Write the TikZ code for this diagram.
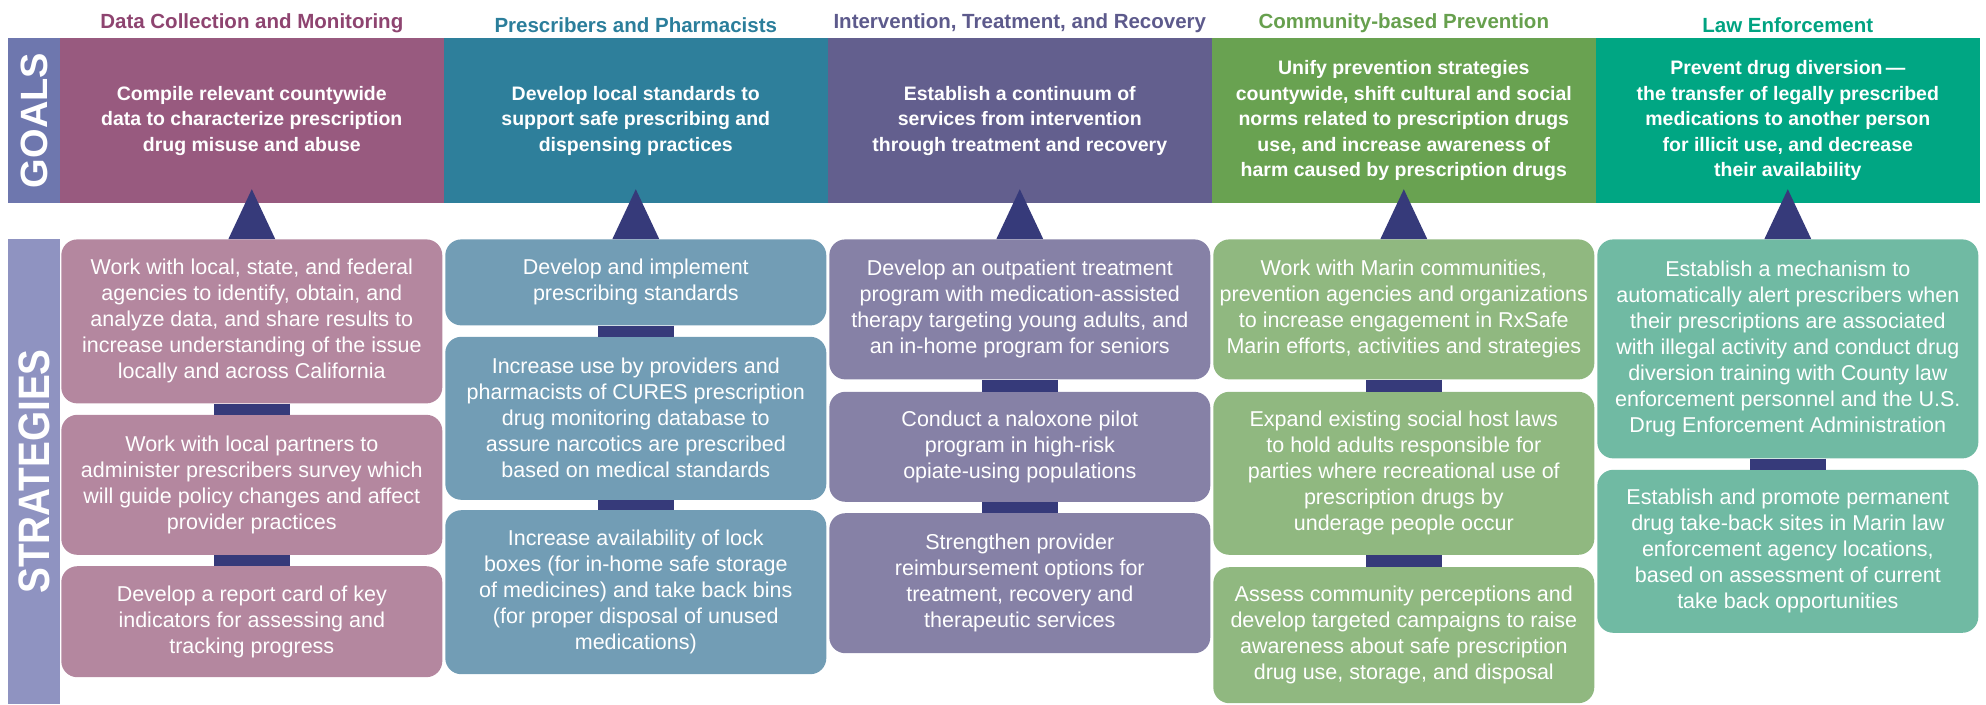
\documentclass[tikz,border=0pt]{standalone}
\usepackage{fontspec}
\setmainfont{Liberation Sans}
\usepackage{xcolor}
\usepackage{tikz}
\usetikzlibrary{positioning, calc}

\definecolor{navybar}{HTML}{363A7A}
\definecolor{goalsband}{HTML}{6E77AE}
\definecolor{stratband}{HTML}{8F93C1}
\definecolor{datahead}{HTML}{8E4470}
\definecolor{datagoal}{HTML}{985A7F}
\definecolor{datastrat}{HTML}{B4879F}
\definecolor{rxhead}{HTML}{2B7E9B}
\definecolor{rxgoal}{HTML}{2E7F9B}
\definecolor{rxstrat}{HTML}{729DB5}
\definecolor{treathead}{HTML}{5D5A8C}
\definecolor{treatgoal}{HTML}{635F8E}
\definecolor{treatstrat}{HTML}{8681A6}
\definecolor{commhead}{HTML}{67A04E}
\definecolor{commgoal}{HTML}{69A251}
\definecolor{commstrat}{HTML}{90B880}
\definecolor{lawhead}{HTML}{00A381}
\definecolor{lawgoal}{HTML}{00A683}
\definecolor{lawstrat}{HTML}{70BAA3}

\tikzset{
    band/.style={
        rectangle,
        rotate=90,
        inner sep=0pt,
        minimum height=52pt,
        text=white,
        font=\fontsize{38pt}{40pt}\selectfont\bfseries
    },
    colhead/.style={
        inner sep=0pt,
        font=\fontsize{20.5pt}{24pt}\selectfont\bfseries
    },
    goal/.style={
        rectangle,
        inner sep=0pt,
        minimum width=383.6pt,
        minimum height=165pt,
        align=center,
        text=white,
        font=\fontsize{19.5pt}{25.5pt}\selectfont\bfseries
    },
    strat/.style={
        rectangle,
        rounded corners=16pt,
        inner sep=0pt,
        minimum width=381pt,
        align=center,
        text=white,
        font=\fontsize{21.5pt}{26pt}\selectfont
    },
    link/.style={
        draw=navybar,
        line width=76pt
    },
    pointer/.style={
        fill=navybar
    }
}

\begin{document}
\begin{tikzpicture}[x=1pt, y=-1pt, node distance=11pt]

\useasboundingbox (0,0) rectangle (1986,704);

% Side bands
\node[band, fill=goalsband, minimum width=165pt] (goals_lbl) at (34,120.5) {GOALS};
\node[band, fill=stratband, minimum width=465pt, font=\fontsize{44pt}{46pt}\selectfont\bfseries] (strat_lbl) at (34,471.5) {\addfontfeature{FakeStretch=0.88}STRATEGIES};

% Goals
\node[goal, fill=datagoal] (g1) at (251.8,120.5) {Compile relevant countywide\\data to characterize prescription\\drug misuse and abuse};
\node[goal, fill=rxgoal, right=0pt of g1] (g2) {Develop local standards to\\support safe prescribing and\\dispensing practices};
\node[goal, fill=treatgoal, right=0pt of g2] (g3) {Establish a continuum of\\services from intervention\\through treatment and recovery};
\node[goal, fill=commgoal, right=0pt of g3] (g4) {Unify prevention strategies\\countywide, shift cultural and social\\norms related to prescription drugs\\use, and increase awareness of\\harm caused by prescription drugs};
\node[goal, fill=lawgoal, right=0pt of g4] (g5) {Prevent drug diversion\,---\\the transfer of legally prescribed\\medications to another person\\for illicit use, and decrease\\their availability};

% Column headings
\node[colhead, text=datahead, above=5pt of g1] (h1) {Data Collection and Monitoring};
\node[colhead, text=rxhead, above=5pt of g2] (h2) {Prescribers and Pharmacists};
\node[colhead, text=treathead, above=5pt of g3] (h3) {Intervention, Treatment, and Recovery};
\node[colhead, text=commhead, above=5pt of g4] (h4) {Community-based Prevention};
\node[colhead, text=lawhead, above=5pt of g5] (h5) {Law Enforcement};

% Data collection strategies
\node[strat, fill=datastrat, below=36pt of g1, minimum height=164pt] (s11) {Work with local, state, and federal\\agencies to identify, obtain, and\\analyze data, and share results to\\increase understanding of the issue\\locally and across California};
\node[strat, fill=datastrat, below=of s11, minimum height=140pt] (s12) {Work with local partners to\\administer prescribers survey which\\will guide policy changes and affect\\provider practices};
\node[strat, fill=datastrat, below=of s12, minimum height=111pt] (s13) {Develop a report card of key\\indicators for assessing and\\tracking progress};

% Prescriber strategies
\node[strat, fill=rxstrat, below=36pt of g2, minimum height=86pt] (s21) {Develop and implement\\prescribing standards};
\node[strat, fill=rxstrat, below=of s21, minimum height=163pt] (s22) {Increase use by providers and\\pharmacists of CURES prescription\\drug monitoring database to\\assure narcotics are prescribed\\based on medical standards};
\node[strat, fill=rxstrat, below=10pt of s22, minimum height=164pt] (s23) {Increase availability of lock\\boxes (for in-home safe storage\\of medicines) and take back bins\\(for proper disposal of unused\\medications)};

% Treatment strategies
\node[strat, fill=treatstrat, below=36pt of g3, minimum height=140pt] (s31) {Develop an outpatient treatment\\program with medication-assisted\\therapy targeting young adults, and\\an in-home program for seniors};
\node[strat, fill=treatstrat, below=12pt of s31, minimum height=110pt] (s32) {Conduct a naloxone pilot\\program in high-risk\\opiate-using populations};
\node[strat, fill=treatstrat, below=of s32, minimum height=140pt] (s33) {Strengthen provider\\reimbursement options for\\treatment, recovery and\\therapeutic services};

% Prevention strategies
\node[strat, fill=commstrat, below=36pt of g4, minimum height=140pt] (s41) {Work with Marin communities,\\prevention agencies and organizations\\to increase engagement in RxSafe\\Marin efforts, activities and strategies};
\node[strat, fill=commstrat, below=12pt of s41, minimum height=163pt] (s42) {Expand existing social host laws\\to hold adults responsible for\\parties where recreational use of\\prescription drugs by\\underage people occur};
\node[strat, fill=commstrat, below=12pt of s42, minimum height=136pt] (s43) {Assess community perceptions and\\develop targeted campaigns to raise\\awareness about safe prescription\\drug use, storage, and disposal};

% Law enforcement strategies
\node[strat, fill=lawstrat, below=36pt of g5, minimum height=219pt] (s51) {Establish a mechanism to\\automatically alert prescribers when\\their prescriptions are associated\\with illegal activity and conduct drug\\diversion training with County law\\enforcement personnel and the U.S.\\Drug Enforcement Administration};
\node[strat, fill=lawstrat, below=of s51, minimum height=163pt] (s52) {Establish and promote permanent\\drug take-back sites in Marin law\\enforcement agency locations,\\based on assessment of current\\take back opportunities};

% Pointers from strategies up to goals
\fill[pointer] ($(s11.north)+(-23.5,0)$) -- ($(g1.south)+(0,-14)$) -- ($(s11.north)+(23.5,0)$) -- cycle;
\fill[pointer] ($(s21.north)+(-23.5,0)$) -- ($(g2.south)+(0,-14)$) -- ($(s21.north)+(23.5,0)$) -- cycle;
\fill[pointer] ($(s31.north)+(-23.5,0)$) -- ($(g3.south)+(0,-14)$) -- ($(s31.north)+(23.5,0)$) -- cycle;
\fill[pointer] ($(s41.north)+(-23.5,0)$) -- ($(g4.south)+(0,-14)$) -- ($(s41.north)+(23.5,0)$) -- cycle;
\fill[pointer] ($(s51.north)+(-23.5,0)$) -- ($(g5.south)+(0,-14)$) -- ($(s51.north)+(23.5,0)$) -- cycle;

% Links between strategies
\draw[link] (s11.south) -- (s12.north);
\draw[link] (s12.south) -- (s13.north);
\draw[link] (s21.south) -- (s22.north);
\draw[link] (s22.south) -- (s23.north);
\draw[link] (s31.south) -- (s32.north);
\draw[link] (s32.south) -- (s33.north);
\draw[link] (s41.south) -- (s42.north);
\draw[link] (s42.south) -- (s43.north);
\draw[link] (s51.south) -- (s52.north);

\end{tikzpicture}
\end{document}
